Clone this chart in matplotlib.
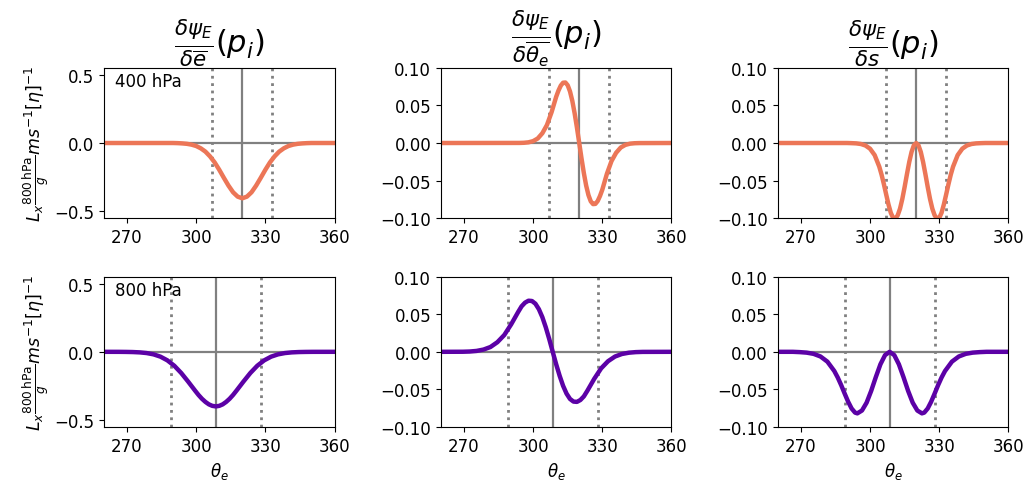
import matplotlib
matplotlib.use('Agg')
import matplotlib.pyplot as plt

# x axis: theta_e
xlim = (260, 360)
xticks = [270, 300, 330, 360]

# panel titles and row labels
titles = [r'$\frac{\delta\psi_E}{\delta\overline{e}}(p_i)$',
          r'$\frac{\delta\psi_E}{\delta\overline{\theta_e}}(p_i)$',
          r'$\frac{\delta\psi_E}{\delta s}(p_i)$']
row_labels = ['400 hPa', '800 hPa']
row_colors = ['#ec7657', '#5c01a6']

# reference lines per row (centre, dotted)
row_centre = [320, 308.5]
row_dotted = [[307, 333], [289, 328]]

# --- 400 hPa row ---
tl_theta = [260, 290, 292, 294, 296, 298, 300, 302, 304, 306, 308, 310, 312, 314, 316, 318, 320,
            322, 324, 326, 328, 330, 332, 334, 336, 338, 340, 342, 344, 346, 348, 350, 360]
tl_val = [0, 0, -0.001, -0.003, -0.006, -0.012, -0.022, -0.039, -0.063, -0.098, -0.142, -0.196,
          -0.255, -0.312, -0.361, -0.393, -0.405, -0.393, -0.361, -0.312, -0.255, -0.196, -0.142,
          -0.098, -0.063, -0.039, -0.022, -0.012, -0.006, -0.003, -0.001, 0, 0]

tm_theta = [260, 294, 296, 298, 300, 302, 304, 306, 308, 310, 311, 312, 313, 314, 315, 316, 317,
            318, 319, 320, 321, 322, 323, 324, 325, 326, 327, 328, 329, 330, 332, 334, 336, 338,
            340, 342, 344, 346, 360]
tm_val = [0, 0.0001, 0.0003, 0.0009, 0.0025, 0.006, 0.013, 0.024, 0.041, 0.0616, 0.0699, 0.0765,
          0.0803, 0.0806, 0.0769, 0.0687, 0.0561, 0.0397, 0.0206, 0, -0.0208, -0.0401, -0.0567,
          -0.0694, -0.0777, -0.0814, -0.0811, -0.0773, -0.0706, -0.0622, -0.041, -0.024, -0.013,
          -0.006, -0.0025, -0.0009, -0.0003, -0.0001, 0]

tr_theta = [260, 290, 292, 294, 296, 298, 300, 302, 304, 305, 306, 307, 308, 309, 310, 311, 312,
            313, 314, 315, 316, 317, 318, 319, 320, 321, 322, 323, 324, 325, 326, 327, 328, 329,
            330, 331, 332, 333, 334, 335, 336, 338, 340, 342, 344, 346, 348, 350, 360]
tr_val = [0, 0, -0.0002, -0.0005, -0.0013, -0.0033, -0.0076, -0.0161, -0.0315, -0.0422, -0.0549,
          -0.0686, -0.0819, -0.0930, -0.0998, -0.1006, -0.0963, -0.0874, -0.0744, -0.0585, -0.0415,
          -0.0253, -0.0119, -0.0031, 0, -0.0031, -0.0119, -0.0253, -0.0415, -0.0585, -0.0744,
          -0.0874, -0.0963, -0.1006, -0.0998, -0.0930, -0.0819, -0.0686, -0.0549, -0.0422,
          -0.0315, -0.0161, -0.0076, -0.0033, -0.0013, -0.0005, -0.0002, 0, 0]

# --- 800 hPa row ---
bl_theta = [260, 266.5, 269.5, 272.5, 275.5, 278.5, 281.5, 284.5, 287.5, 290.5, 293.5, 296.5,
            299.5, 301, 302.5, 304, 305.5, 307, 308.5, 310, 311.5, 313, 314.5, 316, 317.5, 320.5,
            323.5, 326.5, 329.5, 332.5, 335.5, 338.5, 341.5, 344.5, 347.5, 350.5, 360]
bl_val = [0, -0.0002, -0.0007, -0.0017, -0.0041, -0.009, -0.0186, -0.0354, -0.0625, -0.102,
          -0.155, -0.218, -0.284, -0.316, -0.344, -0.367, -0.385, -0.396, -0.4, -0.396, -0.385,
          -0.367, -0.344, -0.316, -0.284, -0.218, -0.155, -0.102, -0.0625, -0.0354, -0.0186,
          -0.009, -0.0041, -0.0017, -0.0007, -0.0002, 0]

bm_theta = [260, 269.5, 272.5, 275.5, 278.5, 281.5, 284.5, 287.5, 290.5, 293.5, 295, 296.5, 298,
            299.5, 301, 302.5, 304, 305.5, 307, 308.5, 310, 311.5, 313, 314.5, 316, 317.5, 319,
            320.5, 322, 323.5, 326.5, 329.5, 332.5, 335.5, 338.5, 341.5, 344.5, 347.5, 360]
bm_val = [0, 0.0001, 0.0004, 0.0012, 0.003, 0.0064, 0.0128, 0.0224, 0.0367, 0.053, 0.0606,
          0.0655, 0.0681, 0.0677, 0.0641, 0.0568, 0.0462, 0.0326, 0.0169, 0, -0.0166, -0.0319,
          -0.0453, -0.0557, -0.0628, -0.0663, -0.0667, -0.0642, -0.0594, -0.052, -0.036, -0.022,
          -0.0125, -0.0063, -0.0029, -0.0012, -0.0004, -0.0001, 0]

br_theta = [260, 266.5, 269.5, 272.5, 275.5, 278.5, 281.5, 284.5, 286, 287.5, 289, 290.5, 292,
            293.5, 294.5, 296.5, 298.5, 300.5, 302.5, 304.5, 306.5, 308.5, 310.5, 312.5, 314.5,
            316.5, 318.5, 320.5, 322.5, 323.5, 325, 326.5, 328, 329.5, 331, 332.5, 335.5, 338.5,
            341.5, 344.5, 347.5, 350.5, 360]
br_val = [0, 0, -0.0004, -0.0011, -0.0027, -0.0062, -0.0131, -0.0256, -0.0343, -0.0445, -0.0557,
          -0.0665, -0.0755, -0.081, -0.082, -0.0782, -0.0678, -0.052, -0.0337, -0.0166, -0.0044,
          0, -0.0044, -0.0166, -0.0337, -0.052, -0.0678, -0.0782, -0.082, -0.081, -0.0755,
          -0.0665, -0.0557, -0.0445, -0.0343, -0.0256, -0.0131, -0.0062, -0.0027, -0.0011,
          -0.0004, 0, 0]

curves = [[(tl_theta, tl_val), (tm_theta, tm_val), (tr_theta, tr_val)],
          [(bl_theta, bl_val), (bm_theta, bm_val), (br_theta, br_val)]]

ylims = [(-0.55, 0.55), (-0.1, 0.1), (-0.1, 0.1)]
yticks = [[-0.5, 0.0, 0.5], [-0.10, -0.05, 0.00, 0.05, 0.10], [-0.10, -0.05, 0.00, 0.05, 0.10]]
yfmt = ['{:.1f}', '{:.2f}', '{:.2f}']

ylabel = r'$L_x\frac{800\,\mathrm{hPa}}{g}ms^{-1}[\eta]^{-1}$'

fig, axes = plt.subplots(2, 3, figsize=(10.29, 4.89), dpi=100)
plt.subplots_adjust(left=0.101, right=0.98, top=0.859, bottom=0.125, wspace=0.461, hspace=0.391)

for r in range(2):
    for c in range(3):
        ax = axes[r, c]
        ax.axhline(0, color='grey', lw=1.6, zorder=1)
        ax.axvline(row_centre[r], color='grey', lw=1.6, zorder=1)
        for xd in row_dotted[r]:
            ax.axvline(xd, color='grey', lw=2, ls=':', zorder=1)
        th, val = curves[r][c]
        ax.plot(th, val, color=row_colors[r], lw=3.2, zorder=2)
        ax.set_xlim(*xlim)
        ax.set_xticks(xticks)
        ax.set_ylim(*ylims[c])
        ax.set_yticks(yticks[c])
        ax.set_yticklabels([yfmt[c].format(v).replace('-', '\u2212') for v in yticks[c]])
        ax.tick_params(labelsize=12)
        if r == 0:
            ax.set_title(titles[c], fontsize=22, pad=2)
        if r == 1:
            ax.set_xlabel(r'$\theta_e$', fontsize=12)
        if c == 0:
            ax.set_ylabel(ylabel, fontsize=12.5, labelpad=2)
            ax.text(0.05, 0.91, row_labels[r], transform=ax.transAxes, fontsize=12,
                    va='center', ha='left')

plt.savefig('out.png', dpi=100)
